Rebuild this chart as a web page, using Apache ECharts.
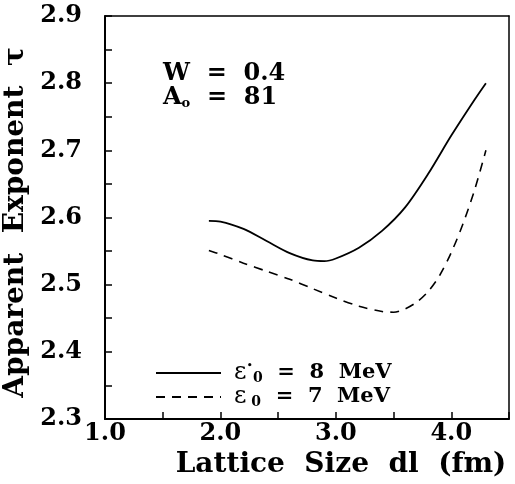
<!DOCTYPE html>
<html>
<head>
<meta charset="utf-8">
<script src="https://cdn.jsdelivr.net/npm/echarts@6/dist/echarts.min.js"></script>
<style>
  html, body { margin: 0; padding: 0; background: #fff; }
  #chart { width: 515px; height: 484px; }
</style>
</head>
<body>
<div id="chart"></div>
<script>
// lattice size dl (fm) and apparent exponent tau
const dlSolid = [1.9, 2.0, 2.2, 2.4, 2.6, 2.8, 2.9, 3.0, 3.2, 3.4, 3.6, 3.8, 4.0, 4.2, 4.3];
const tauSolid = [2.595, 2.594, 2.583, 2.565, 2.547, 2.536, 2.535, 2.539, 2.555, 2.580, 2.615, 2.665, 2.722, 2.775, 2.800];

const dlDashed = [1.9, 2.0, 2.2, 2.4, 2.6, 2.8, 3.0, 3.2, 3.4, 3.5, 3.6, 3.7, 3.8, 3.9, 4.0, 4.1, 4.2, 4.3];
const tauDashed = [2.551, 2.545, 2.532, 2.520, 2.508, 2.494, 2.480, 2.468, 2.460, 2.459, 2.464, 2.474, 2.490, 2.514, 2.548, 2.590, 2.640, 2.700];

const seriesNames = ['eps8', 'eps7'];
const legendLabels = {
  eps8: '{e|ε}{sup|•}{sub|0}{t|  =  8  MeV}',
  eps7: '{e|ε}{sub| 0}{t|  =  7  MeV}'
};

const font = 'DejaVu Serif';
const chart = echarts.init(document.getElementById('chart'));

const zip = (xs, ys) => xs.map((x, i) => [x, ys[i]]);

const option = {
  animation: false,
  backgroundColor: '#fff',
  grid: { left: 105, right: 6, top: 16, bottom: 65, outerBoundsMode: 'none' },
  xAxis: [{
    type: 'value',
    min: 1.0, max: 4.5, interval: 0.5,
    name: 'Lattice  Size  dl  (fm)',
    nameLocation: 'middle',
    nameGap: 32,
    nameTextStyle: { fontFamily: font, fontWeight: 'bold', fontSize: 28, color: '#000', padding: [0, 0, 0, 68] },
    axisLine: { lineStyle: { color: '#000', width: 2 } },
    axisTick: { inside: true, length: 7, lineStyle: { color: '#000', width: 1.5 } },
    axisLabel: {
      margin: 3,
      fontFamily: font, fontWeight: 'bold', fontSize: 24, color: '#000',
      formatter: v => (Math.abs(v - Math.round(v)) < 1e-6 ? v.toFixed(1) : '')
    },
    splitLine: { show: false }
  }, {
    type: 'value', position: 'top', min: 1.0, max: 4.5,
    axisLine: { show: true, lineStyle: { color: '#000', width: 1.5 } },
    axisTick: { show: false }, axisLabel: { show: false }, splitLine: { show: false }
  }],
  yAxis: [{
    type: 'value',
    min: 2.3, max: 2.9, interval: 0.05,
    name: 'Apparent  Exponent  τ',
    nameLocation: 'middle',
    nameGap: 64,
    nameTextStyle: { fontFamily: font, fontWeight: 'bold', fontSize: 28, color: '#000', padding: [0, 10, 0, 0] },
    axisLine: { show: true, lineStyle: { color: '#000', width: 2 } },
    axisTick: { inside: true, length: 7, lineStyle: { color: '#000', width: 1.5 } },
    axisLabel: {
      margin: 23,
      fontFamily: font, fontWeight: 'bold', fontSize: 24, color: '#000',
      formatter: v => (Math.round(v * 100) % 10 === 0 ? v.toFixed(1) : '')
    },
    splitLine: { show: false }
  }, {
    type: 'value', position: 'right', min: 2.3, max: 2.9,
    axisLine: { show: true, lineStyle: { color: '#000', width: 1.5 } },
    axisTick: { show: false }, axisLabel: { show: false }, splitLine: { show: false }
  }],
  legend: {
    orient: 'vertical',
    left: 155, top: 361, padding: 0,
    itemWidth: 65, itemHeight: 22, itemGap: 0,
    itemStyle: { opacity: 0 },
    data: seriesNames,
    formatter: name => legendLabels[name],
    textStyle: {
      padding: [0, 0, 0, 8],
      rich: {
        e: { fontFamily: font, fontSize: 24, color: '#000', lineHeight: 24 },
        sup: { fontFamily: font, fontSize: 11, color: '#000', lineHeight: 11, verticalAlign: 'top' },
        sub: { fontFamily: font, fontWeight: 'bold', fontSize: 14, color: '#000', lineHeight: 14, verticalAlign: 'bottom' },
        t: { fontFamily: font, fontWeight: 'bold', fontSize: 21, color: '#000', lineHeight: 22 }
      }
    }
  },
  graphic: [{
    type: 'text',
    left: 163, top: 62,
    style: {
      text: '{b|W  =  0.4}\n{b|A}{s|o}{b|  =  81}',
      rich: {
        b: { fontFamily: font, fontWeight: 'bold', fontSize: 24, fill: '#000', lineHeight: 24 },
        s: { fontFamily: font, fontWeight: 'bold', fontSize: 13, fill: '#000', lineHeight: 12, verticalAlign: 'bottom' }
      }
    }
  }],
  series: [{
    name: seriesNames[0],
    type: 'line',
    data: zip(dlSolid, tauSolid),
    smooth: 0.3,
    symbol: 'none',
    lineStyle: { color: '#000', width: 1.8 },
    itemStyle: { color: '#000' }
  }, {
    name: seriesNames[1],
    type: 'line',
    data: zip(dlDashed, tauDashed),
    smooth: 0.3,
    symbol: 'none',
    lineStyle: { color: '#000', width: 1.6, type: [9, 7] },
    itemStyle: { color: '#000' }
  }]
};

chart.setOption(option);
</script>
</body>
</html>
